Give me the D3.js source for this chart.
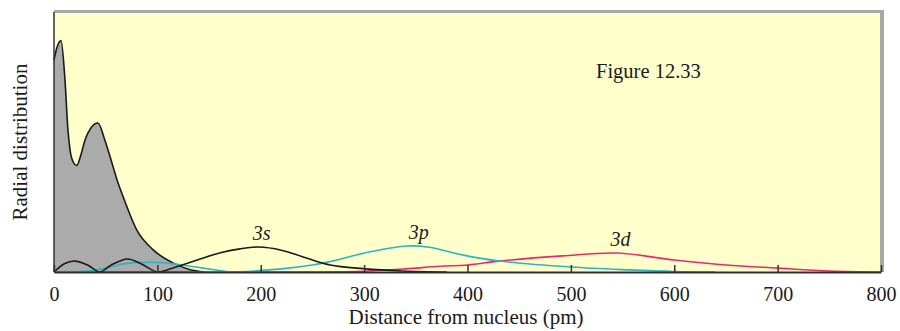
<!DOCTYPE html>
<html>
<head>
<meta charset="utf-8">
<script src="https://cdn.jsdelivr.net/npm/d3@7"></script>
<style>
  body { margin: 0; background: #fff; }
  text { font-family: "Liberation Serif", "Times New Roman", Times, "DejaVu Serif", serif; fill: #1a1a1a; }
</style>
</head>
<body>
<div id="plot"></div>
<script>
// Radial distribution data (distance in pm, arbitrary units)
const coreR = [0, 3, 6.8, 10.6, 13.5, 15.5, 19, 22, 26, 30, 35.7, 42.5, 49, 56, 61, 67, 80, 96, 115, 131, 146];
const coreV = [81.5, 86.5, 89, 74, 54.6, 47, 42, 41, 45, 50.8, 55.4, 57.3, 51, 42, 35.4, 28.8, 16.2, 8.5, 3.5, 1, 0];

const s3R = [0, 10, 20, 33, 44, 55, 71, 85, 99.5, 110, 124, 140, 160, 180, 198, 220, 241, 267, 299, 337, 380];
const s3V = [0, 3.2, 4.2, 2.6, 0, 2.6, 5, 3, 0, 0.9, 2.7, 4.8, 7.3, 8.9, 9.6, 8.4, 5.8, 2.7, 1.3, 0.4, 0];

const p3R = [0, 30, 50, 65, 80, 100, 112, 124, 144, 160, 172, 190, 220, 250, 265, 305, 342, 363, 396, 431, 500, 557, 600, 640];
const p3V = [0, 0.3, 1.5, 3.0, 3.6, 3.7, 3.3, 2.7, 1.5, 0.6, 0, 0.3, 1.2, 2.7, 3.8, 7.7, 10, 9.5, 6.5, 4.2, 1.9, 0.8, 0.2, 0];

const d3R = [0, 250, 300, 340, 373, 400, 431, 492, 545, 600, 650, 700, 750, 800];
const d3V = [0, 0, 0.3, 1.2, 2.2, 2.7, 4.2, 6.2, 7.3, 4.6, 2.7, 1.5, 0.4, 0];

const xTicks = [0, 100, 200, 300, 400, 500, 600, 700, 800];
const orbitalLabels = [
  { name: "3s", r: 198, v: 9.6 },
  { name: "3p", r: 350, v: 10 },
  { name: "3d", r: 545, v: 7.3 }
];

// Set dimensions and margins
const margin = { top: 12, right: 19, bottom: 59, left: 54 };
const width = 900 - margin.left - margin.right;
const height = 331 - margin.top - margin.bottom;

const svg = d3.select("#plot")
  .append("svg")
  .attr("width", 900)
  .attr("height", 331)
  .append("g")
  .attr("transform", `translate(${margin.left},${margin.top})`);

const x = d3.scaleLinear().domain([0, 800]).range([0, width]);
const y = d3.scaleLinear().domain([0, 100]).range([height, 0]);

const zip = (rs, vs) => rs.map((r, i) => ({ r, v: vs[i] }));

// Pale yellow plot background
svg.append("rect")
  .attr("x", 0)
  .attr("y", 0)
  .attr("width", width)
  .attr("height", height)
  .attr("fill", "#ffffcc");

// Gray frame on top and right
svg.append("line")
  .attr("x1", 0).attr("x2", width + 3)
  .attr("y1", -0.5).attr("y2", -0.5)
  .attr("stroke", "#a8a8a8")
  .attr("stroke-width", 3);

svg.append("line")
  .attr("x1", width + 1).attr("x2", width + 1)
  .attr("y1", -2).attr("y2", height)
  .attr("stroke", "#a8a8a8")
  .attr("stroke-width", 4);

// Core electrons (filled)
const coreLine = d3.line()
  .x(d => x(d.r))
  .y(d => y(d.v))
  .curve(d3.curveMonotoneX);

const orbLine = d3.line()
  .x(d => x(d.r))
  .y(d => Math.min(y(d.v), height))
  .curve(d3.curveCatmullRom.alpha(0.5));

const area = d3.area()
  .x(d => x(d.r))
  .y0(height)
  .y1(d => y(d.v))
  .curve(d3.curveMonotoneX);

const core = zip(coreR, coreV);

svg.append("path")
  .datum(core)
  .attr("d", area)
  .attr("fill", "#ababab");

svg.append("path")
  .datum(core)
  .attr("d", coreLine)
  .attr("fill", "none")
  .attr("stroke", "#1a1a1a")
  .attr("stroke-width", 1.6);

// Orbital curves
const series = [
  { data: zip(d3R, d3V), color: "#e62a6e" },
  { data: zip(p3R, p3V), color: "#2fb3c4" },
  { data: zip(s3R, s3V), color: "#1a1a1a" }
];

svg.selectAll(".orbital")
  .data(series)
  .enter()
  .append("path")
  .attr("class", "orbital")
  .attr("d", d => orbLine(d.data))
  .attr("fill", "none")
  .attr("stroke", d => d.color)
  .attr("stroke-width", 1.6);

// Orbital labels
svg.selectAll(".orb-label")
  .data(orbitalLabels)
  .enter()
  .append("text")
  .attr("class", "orb-label")
  .attr("x", d => x(d.r) + 3)
  .attr("y", d => y(d.v) - 7)
  .attr("text-anchor", "middle")
  .style("font-size", "20px")
  .style("font-style", "italic")
  .text(d => d.name);

// X axis with inward ticks
const xAxis = svg.append("g")
  .attr("class", "x-axis")
  .attr("transform", `translate(0,${height})`)
  .call(d3.axisBottom(x)
    .tickValues(xTicks)
    .tickSizeInner(-7)
    .tickSizeOuter(0)
    .tickPadding(15));

xAxis.attr("font-family", null);

xAxis.select(".domain")
  .attr("stroke", "#333")
  .attr("stroke-width", 2);

xAxis.selectAll(".tick line")
  .attr("stroke", "#333")
  .attr("stroke-width", 1.5);

xAxis.selectAll(".tick text")
  .attr("fill", "#1a1a1a")
  .style("font-size", "20px");

// Y axis line only
svg.append("line")
  .attr("x1", 0).attr("x2", 0)
  .attr("y1", 0).attr("y2", height)
  .attr("stroke", "#333")
  .attr("stroke-width", 1.5);

// Axis titles
svg.append("text")
  .attr("text-anchor", "middle")
  .attr("x", 466 - margin.left)
  .attr("y", height + 52)
  .style("font-size", "21px")
  .text("Distance from nucleus (pm)");

svg.append("text")
  .attr("text-anchor", "middle")
  .attr("transform", `translate(${27 - margin.left},${142 - margin.top}) rotate(-90)`)
  .style("font-size", "21px")
  .text("Radial distribution");

// Figure caption
svg.append("text")
  .attr("x", 596 - margin.left)
  .attr("y", 78 - margin.top)
  .style("font-size", "20.5px")
  .text("Figure 12.33");
</script>
</body>
</html>
